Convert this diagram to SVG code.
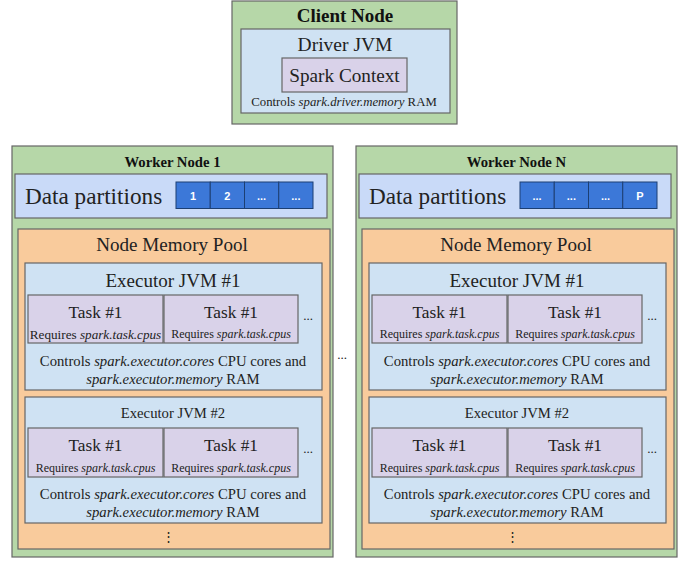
<svg xmlns="http://www.w3.org/2000/svg" width="686" height="564" viewBox="0 0 686 564">
<style>
text{font-family:"Liberation Serif","Times New Roman",serif;fill:#222;text-anchor:middle}
.node{fill:#b6d7a8;stroke:#666;stroke-width:1.2}
.jvm{fill:#cfe2f3;stroke:#666;stroke-width:1.2}
.dp{fill:#c9daf8;stroke:#666;stroke-width:1.2}
.task{fill:#d9d2e9;stroke:#666;stroke-width:1.2}
.pool{fill:#f9cb9c;stroke:#666;stroke-width:1.2}
.cell{fill:#3c78d8;stroke:#1c3f73;stroke-width:1}
.celltxt{font-family:"Liberation Sans",Arial,sans-serif;font-weight:bold;fill:#fff;font-size:11px}
.title{font-weight:bold;fill:#111}
.ex1{font-size:19px}
.ex2{font-size:14.7px}
.ctl{font-size:14.7px}
.tk{font-size:17.3px}
.rq{font-size:12px}
.dots{font-size:13px}
</style>

<g id="client-node">
<rect class="node" x="232" y="1" width="225" height="123"/>
<text class="title" x="345" y="22" font-size="19">Client Node</text>
<g id="driver-jvm">
<rect class="jvm" x="241" y="29" width="209" height="84"/>
<text x="345" y="51" font-size="19.5">Driver JVM</text>
<g id="spark-context">
<rect class="task" x="282" y="58" width="125" height="34"/>
<text x="344.5" y="81.5" font-size="19.2">Spark Context</text>
</g>
<text x="344" y="106" font-size="12.8">Controls <tspan font-style="italic">spark.driver.memory</tspan> RAM</text>
</g>
</g>

<g id="worker-node-1">
<rect class="node" x="12" y="146" width="321" height="411"/>
<text class="title" x="172.5" y="167" font-size="14.7">Worker Node 1</text>
<g id="data-partitions-1">
<rect class="dp" x="15" y="174" width="312" height="44"/>
<text x="25" y="204" font-size="23.2" style="text-anchor:start">Data partitions</text>
<rect class="cell" x="176" y="182" width="34.25" height="26.5"/>
<rect class="cell" x="210.25" y="182" width="34.25" height="26.5"/>
<rect class="cell" x="244.5" y="182" width="34.25" height="26.5"/>
<rect class="cell" x="278.75" y="182" width="34.25" height="26.5"/>
<text class="celltxt" x="193" y="199.5">1</text>
<text class="celltxt" x="227.4" y="199.5">2</text>
<text class="celltxt" x="261.6" y="199.5">...</text>
<text class="celltxt" x="295.9" y="199.5">...</text>
</g>
<g id="memory-pool-1">
<rect class="pool" x="18" y="229" width="312" height="320"/>
<text x="172" y="251" font-size="19.1">Node Memory Pool</text>
<g id="executor-1-1">
<rect class="jvm" x="25" y="263" width="297" height="127"/>
<text class="ex1" x="173" y="287">Executor JVM #1</text>
<rect class="task" x="28" y="295" width="135" height="48"/>
<rect class="task" x="164" y="295" width="134" height="48"/>
<text class="tk" x="95.5" y="318">Task #1</text>
<text class="tk" x="231" y="318">Task #1</text>
<text x="95.5" y="339" font-size="13.2">Requires <tspan font-style="italic">spark.task.cpus</tspan></text>
<text class="rq" x="231" y="338">Requires <tspan font-style="italic">spark.task.cpus</tspan></text>
<text class="dots" x="308" y="320">...</text>
<text class="ctl" x="173" y="366">Controls <tspan font-style="italic">spark.executor.cores</tspan> CPU cores and</text>
<text class="ctl" x="173" y="384"><tspan font-style="italic">spark.executor.memory</tspan> RAM</text>
</g>
<g id="executor-1-2">
<rect class="jvm" x="25" y="397" width="297" height="126"/>
<text class="ex2" x="173" y="418">Executor JVM #2</text>
<rect class="task" x="28" y="428" width="135" height="49"/>
<rect class="task" x="164" y="428" width="134" height="49"/>
<text class="tk" x="95.5" y="451">Task #1</text>
<text class="tk" x="231" y="451">Task #1</text>
<text class="rq" x="95.5" y="472">Requires <tspan font-style="italic">spark.task.cpus</tspan></text>
<text class="rq" x="231" y="472">Requires <tspan font-style="italic">spark.task.cpus</tspan></text>
<text class="dots" x="308" y="453">...</text>
<text class="ctl" x="173" y="499">Controls <tspan font-style="italic">spark.executor.cores</tspan> CPU cores and</text>
<text class="ctl" x="173" y="517"><tspan font-style="italic">spark.executor.memory</tspan> RAM</text>
</g>
<text x="168" y="541" font-size="13">⋮</text>
</g>
</g>

<text class="dots" x="342" y="359">...</text>

<g id="worker-node-n" transform="translate(344,0)">
<rect class="node" x="12" y="146" width="321" height="411"/>
<text class="title" x="172.5" y="167" font-size="14.7">Worker Node N</text>
<g id="data-partitions-n">
<rect class="dp" x="15" y="174" width="312" height="44"/>
<text x="25" y="204" font-size="23.2" style="text-anchor:start">Data partitions</text>
<rect class="cell" x="176" y="182" width="34.25" height="26.5"/>
<rect class="cell" x="210.25" y="182" width="34.25" height="26.5"/>
<rect class="cell" x="244.5" y="182" width="34.25" height="26.5"/>
<rect class="cell" x="278.75" y="182" width="34.25" height="26.5"/>
<text class="celltxt" x="193" y="199.5">...</text>
<text class="celltxt" x="227.4" y="199.5">...</text>
<text class="celltxt" x="261.6" y="199.5">...</text>
<text class="celltxt" x="295.9" y="199.5">P</text>
</g>
<g id="memory-pool-n">
<rect class="pool" x="18" y="229" width="312" height="320"/>
<text x="172" y="251" font-size="19.1">Node Memory Pool</text>
<g id="executor-n-1">
<rect class="jvm" x="25" y="263" width="297" height="127"/>
<text class="ex1" x="173" y="287">Executor JVM #1</text>
<rect class="task" x="28" y="295" width="135" height="48"/>
<rect class="task" x="164" y="295" width="134" height="48"/>
<text class="tk" x="95.5" y="318">Task #1</text>
<text class="tk" x="231" y="318">Task #1</text>
<text class="rq" x="95.5" y="338">Requires <tspan font-style="italic">spark.task.cpus</tspan></text>
<text class="rq" x="231" y="338">Requires <tspan font-style="italic">spark.task.cpus</tspan></text>
<text class="dots" x="308" y="320">...</text>
<text class="ctl" x="173" y="366">Controls <tspan font-style="italic">spark.executor.cores</tspan> CPU cores and</text>
<text class="ctl" x="173" y="384"><tspan font-style="italic">spark.executor.memory</tspan> RAM</text>
</g>
<g id="executor-n-2">
<rect class="jvm" x="25" y="397" width="297" height="126"/>
<text class="ex2" x="173" y="418">Executor JVM #2</text>
<rect class="task" x="28" y="428" width="135" height="49"/>
<rect class="task" x="164" y="428" width="134" height="49"/>
<text class="tk" x="95.5" y="451">Task #1</text>
<text class="tk" x="231" y="451">Task #1</text>
<text class="rq" x="95.5" y="472">Requires <tspan font-style="italic">spark.task.cpus</tspan></text>
<text class="rq" x="231" y="472">Requires <tspan font-style="italic">spark.task.cpus</tspan></text>
<text class="dots" x="308" y="453">...</text>
<text class="ctl" x="173" y="499">Controls <tspan font-style="italic">spark.executor.cores</tspan> CPU cores and</text>
<text class="ctl" x="173" y="517"><tspan font-style="italic">spark.executor.memory</tspan> RAM</text>
</g>
<text x="168" y="541" font-size="13">⋮</text>
</g>
</g>
</svg>
